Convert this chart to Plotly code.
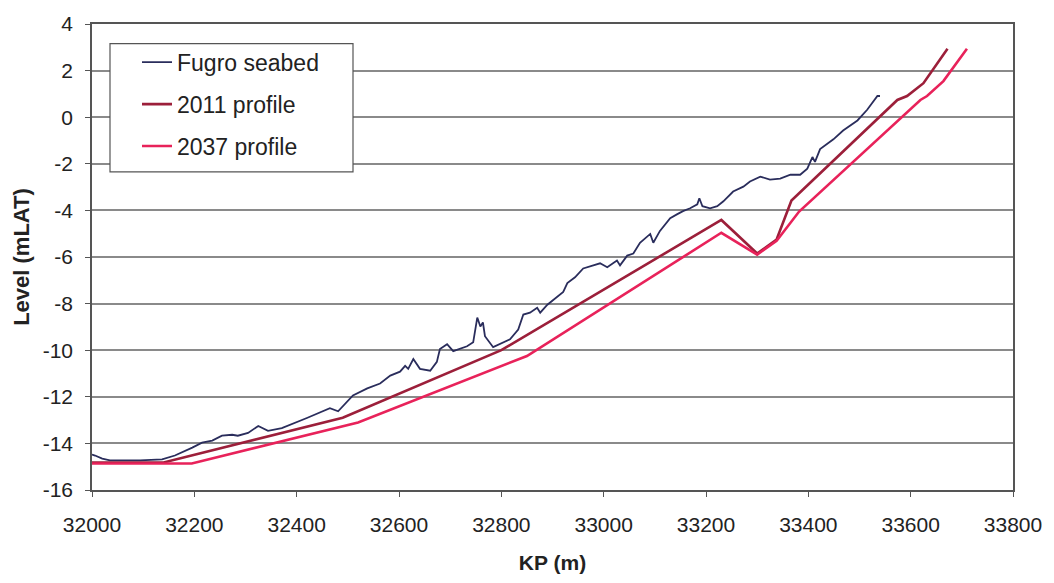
import plotly.graph_objects as go

# ---- Data ----
fugro_kp = [32000, 32006, 32020, 32035, 32065, 32094, 32137, 32162, 32196, 32215,
            32235, 32254, 32274, 32285, 32305, 32325, 32344, 32371, 32420, 32465,
            32481, 32510, 32538, 32563, 32583, 32602, 32612, 32618, 32628, 32641,
            32661, 32674, 32680, 32694, 32706, 32719, 32733, 32745, 32753, 32759,
            32764, 32768, 32784, 32817, 32833, 32843, 32856, 32870, 32876, 32890,
            32909, 32921, 32929, 32944, 32960, 32979, 32993, 33007, 33026, 33032,
            33046, 33058, 33071, 33091, 33097, 33110, 33130, 33144, 33155, 33169,
            33183, 33187, 33193, 33208, 33222, 33234, 33253, 33273, 33286, 33306,
            33325, 33345, 33365, 33384, 33398, 33408, 33413, 33423, 33449, 33468,
            33496, 33515, 33535, 33540]
fugro_level = [-14.48, -14.52, -14.65, -14.73, -14.73, -14.73, -14.69, -14.52, -14.18, -13.97,
               -13.88, -13.67, -13.63, -13.67, -13.55, -13.25, -13.46, -13.34, -12.91, -12.49,
               -12.62, -11.94, -11.64, -11.43, -11.09, -10.92, -10.67, -10.80, -10.38, -10.80,
               -10.88, -10.50, -9.95, -9.74, -10.04, -9.95, -9.83, -9.66, -8.60, -8.98,
               -8.81, -9.40, -9.87, -9.53, -9.11, -8.47, -8.39, -8.18, -8.39, -8.05,
               -7.71, -7.50, -7.12, -6.87, -6.49, -6.36, -6.27, -6.44, -6.15, -6.36,
               -5.94, -5.85, -5.39, -5.01, -5.39, -4.88, -4.33, -4.16, -4.03, -3.91,
               -3.74, -3.48, -3.82, -3.91, -3.82, -3.61, -3.19, -2.98, -2.76, -2.55,
               -2.68, -2.64, -2.47, -2.47, -2.21, -1.71, -1.92, -1.37, -0.95, -0.57,
               -0.14, 0.32, 0.91, 0.91]

p2011_kp = [32000, 32140, 32490, 32800, 33230, 33300, 33338, 33367, 33574, 33593, 33625, 33672]
p2011_level = [-14.82, -14.82, -12.90, -10.00, -4.41, -5.85, -5.25, -3.58, 0.74, 0.91, 1.46, 2.94]

p2037_kp = [32000, 32195, 32520, 32850, 33230, 33300, 33338, 33382, 33619, 33632, 33664, 33710]
p2037_level = [-14.86, -14.86, -13.10, -10.25, -4.96, -5.90, -5.30, -4.05, 0.74, 0.91, 1.55, 2.94]

x_ticks = list(range(32000, 33801, 200))
y_ticks = list(range(-16, 5, 2))

FONT = "Liberation Sans, Arial, sans-serif"

fig = go.Figure()
fig.add_trace(go.Scatter(x=fugro_kp, y=fugro_level, mode="lines", name="Fugro seabed",
                         legendgroup="a", line=dict(color="#2a2d5c", width=1.8)))
fig.add_trace(go.Scatter(x=p2011_kp, y=p2011_level, mode="lines", name="2011 profile",
                         legendgroup="b", line=dict(color="#9c1f3a", width=2.6)))
fig.add_trace(go.Scatter(x=p2037_kp, y=p2037_level, mode="lines", name="2037 profile",
                         legendgroup="c", line=dict(color="#e8225a", width=2.6)))

# plot-area geometry in pixels (for placing the legend box)
L, T, W, H = 92, 20, 921, 473
def px_x(p):
    return (p - L) / W
def px_y(p):
    return 1 - (p - T) / H

fig.add_shape(type="rect", xref="paper", yref="paper",
              x0=px_x(110), x1=px_x(353), y0=px_y(170), y1=px_y(40),
              line=dict(color="#555555", width=1.2), fillcolor="white", layer="above")

fig.update_layout(
    width=1054, height=583,
    margin=dict(l=92, r=41, t=20, b=90),
    paper_bgcolor="white", plot_bgcolor="white",
    font=dict(family=FONT, size=21, color="#222222"),
    showlegend=True,
    legend=dict(x=px_x(137), y=px_y(37), xanchor="left", yanchor="top",
                bgcolor="rgba(0,0,0,0)", borderwidth=0,
                font=dict(size=23, color="#222222"),
                tracegroupgap=9, traceorder="grouped"),
    xaxis=dict(range=[32000, 33800], tickvals=x_ticks, ticktext=[str(v) for v in x_ticks],
               showgrid=False, zeroline=False, showline=True, linecolor="#555555", linewidth=1.5,
               mirror=True, ticks="outside", ticklen=5, tickcolor="#555555",
               ticklabelstandoff=10,
               title=dict(text="<b>KP (m)</b>", font=dict(size=21), standoff=20)),
    yaxis=dict(range=[-16, 4], tickvals=y_ticks, ticktext=[str(v) for v in y_ticks],
               showgrid=True, gridcolor="#8a8a8a", gridwidth=1.5, zeroline=False,
               showline=True, linecolor="#555555", linewidth=1.5, mirror=True,
               ticks="outside", ticklen=5, tickcolor="#555555",
               ticklabelstandoff=8,
               title=dict(text="<b>Level (mLAT)</b>", font=dict(size=22), standoff=7)),
)

fig.write_html("out.html", config={"displayModeBar": False},
               post_script="document.body.style.margin='0';")
